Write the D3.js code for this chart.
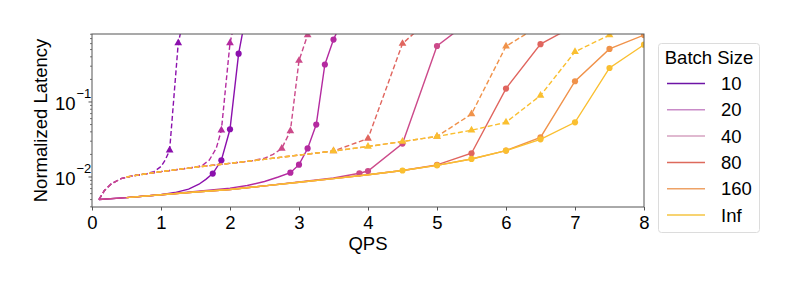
<!DOCTYPE html>
<html><head><meta charset="utf-8">
<script src="https://cdn.jsdelivr.net/npm/d3@7"></script>
<style>body{margin:0;background:#fff;} text{font-family:"Liberation Sans",Arial,Helvetica,sans-serif;fill:#000;}</style>
</head><body><svg id="c" width="789" height="282"></svg>
<script>
// ---------- data ----------
const batchSizes = ["10", "20", "40", "80", "160", "Inf"];
const lineColors = ["#8b10ad", "#b42aa0", "#cc4a8a", "#e0655e", "#f0924a", "#fabf30"];
const legendColors = ["#6e14a6", "#c98bc8", "#d6a2c0", "#dd6a5c", "#eea266", "#f4c542"];
const xTicks = [0, 1, 2, 3, 4, 5, 6, 7, 8];
const yMajorTicks = [0.01, 0.1];
const yTickExponents = ["\u22122", "\u22121"];

// solid lines (circle markers)
const solid10 = [[0.1,0.0050],[0.5,0.0053],[1.0,0.0058],[1.2,0.0062],[1.4,0.0069],[1.55,0.0080],[1.65,0.0093],[1.75,0.0111],[1.875,0.0167],[2.0,0.0433],[2.125,0.44],[2.25,1.8]];
const solid20 = [[0.1,0.0050],[0.5,0.0053],[1.0,0.0058],[1.5,0.0064],[2.0,0.0071],[2.25,0.0077],[2.5,0.0087],[2.7,0.0100],[2.875,0.0114],[3.0,0.0146],[3.125,0.024],[3.25,0.050],[3.375,0.316],[3.5,0.68],[3.625,1.2]];
const solid40 = [[0.1,0.0050],[0.5,0.0053],[1.0,0.0058],[1.5,0.0063],[2.0,0.0068],[2.5,0.0076],[3.0,0.0086],[3.5,0.0097],[3.875,0.0112],[4.0,0.0120],[4.5,0.0279],[5.0,0.558],[5.5,1.25]];
const solid80 = [[0.5,0.0053],[1.0,0.0058],[1.5,0.0063],[2.0,0.0068],[2.5,0.0076],[3.0,0.0085],[3.5,0.0095],[4.0,0.0107],[4.5,0.0122],[5.0,0.0145],[5.5,0.0207],[6.0,0.151],[6.5,0.59],[7.0,1.05]];
const solid160 = [[0.5,0.0053],[1.0,0.0058],[1.5,0.0063],[2.0,0.0068],[2.5,0.0076],[3.0,0.0085],[3.5,0.0095],[4.0,0.0107],[4.5,0.0122],[5.0,0.0143],[5.5,0.0174],[6.0,0.0225],[6.5,0.0338],[7.0,0.189],[7.5,0.51],[8.0,0.78]];
const solidInf = [[0.5,0.0053],[1.0,0.0058],[1.5,0.0063],[2.0,0.0068],[2.5,0.0076],[3.0,0.0085],[3.5,0.0095],[4.0,0.0107],[4.5,0.0122],[5.0,0.0143],[5.5,0.0174],[6.0,0.0225],[6.5,0.0318],[7.0,0.0536],[7.5,0.284],[8.0,0.58]];
const solidMarkers = [
  [1.75,1.875,2.0,2.125],
  [2.875,3.0,3.125,3.25,3.375,3.5],
  [3.875,4.0,4.5,5.0],
  [5.0,5.5,6.0,6.5],
  [6.0,6.5,7.0,7.5,8.0],
  [4.5,5.0,5.5,6.0,6.5,7.0,7.5,8.0]
];

// dashed lines (triangle markers)
const dashed10 = [[0.1,0.0050],[0.18,0.0066],[0.28,0.0081],[0.42,0.0095],[0.6,0.0104],[0.8,0.0111],[0.9,0.0118],[1.0,0.0138],[1.06,0.0168],[1.125,0.0227],[1.25,0.61],[1.375,2.0]];
const dashed20 = [[0.1,0.0050],[0.18,0.0066],[0.28,0.0081],[0.42,0.0095],[0.6,0.0104],[1.0,0.0118],[1.5,0.0135],[1.6,0.0143],[1.7,0.0168],[1.8,0.0240],[1.875,0.042],[2.0,0.61],[2.125,2.0]];
const dashed40 = [[0.1,0.0050],[0.18,0.0066],[0.28,0.0081],[0.42,0.0095],[0.6,0.0104],[1.0,0.0118],[1.5,0.0135],[2.0,0.0152],[2.3,0.0163],[2.5,0.0178],[2.625,0.0200],[2.75,0.024],[2.875,0.041],[3.0,0.356],[3.125,0.78],[3.25,3.0]];
const dashed80 = [[0.5,0.0100],[0.6,0.0104],[1.0,0.0118],[1.5,0.0135],[2.0,0.0152],[2.5,0.0172],[3.0,0.0196],[3.5,0.0222],[4.0,0.0325],[4.5,0.60],[5.0,1.55]];
const dashed160 = [[0.5,0.0100],[0.6,0.0104],[1.0,0.0118],[1.5,0.0135],[2.0,0.0152],[2.5,0.0172],[3.0,0.0196],[3.5,0.0222],[4.0,0.0255],[4.5,0.0297],[5.0,0.0347],[5.5,0.069],[6.0,0.553],[6.5,1.06]];
const dashedInf = [[0.5,0.0100],[0.6,0.0104],[1.0,0.0118],[1.5,0.0135],[2.0,0.0152],[2.5,0.0172],[3.0,0.0196],[3.5,0.0222],[4.0,0.0255],[4.5,0.0297],[5.0,0.0347],[5.5,0.042],[6.0,0.0536],[6.5,0.122],[7.0,0.468],[7.5,0.78],[8.0,1.2]];
const dashedMarkers = [
  [1.125,1.25],
  [1.875,2.0],
  [2.75,2.875,3.0,3.125],
  [3.5,4.0,4.5],
  [5.0,5.5,6.0],
  [3.5,4.0,4.5,5.0,5.5,6.0,6.5,7.0,7.5]
];

const solidSeries = [solid10, solid20, solid40, solid80, solid160, solidInf];
const dashedSeries = [dashed10, dashed20, dashed40, dashed80, dashed160, dashedInf];

// ---------- layout ----------
const plot = {left: 92, right: 644, top: 34, bottom: 207};
const svg = d3.select("#c");

const x = d3.scaleLinear().domain([0, 8]).range([plot.left, plot.right]);
const y = d3.scaleLog().domain([0.00398, 0.806]).range([plot.bottom, plot.top]);

svg.append("defs").append("clipPath").attr("id", "clip")
  .append("rect").attr("x", plot.left).attr("y", plot.top)
  .attr("width", plot.right - plot.left).attr("height", plot.bottom - plot.top);

const g = svg.append("g").attr("clip-path", "url(#clip)");
const line = d3.line().x(d => x(d[0])).y(d => y(d[1]));
const tri = d3.symbol().type(d3.symbolTriangle).size(26);

function lookup(series, xv) {
  return series.find(p => Math.abs(p[0] - xv) < 1e-9);
}

for (let i = 0; i < batchSizes.length; i++) {
  const c = lineColors[i];
  g.append("path").datum(dashedSeries[i]).attr("d", line)
    .attr("fill", "none").attr("stroke", c).attr("stroke-width", 1.4)
    .attr("stroke-dasharray", "5,2.6");
  g.selectAll(null).data(dashedMarkers[i].map(v => lookup(dashedSeries[i], v)))
    .enter().append("path").attr("d", tri)
    .attr("transform", d => `translate(${x(d[0])},${y(d[1])})`)
    .attr("fill", c);
  g.append("path").datum(solidSeries[i]).attr("d", line)
    .attr("fill", "none").attr("stroke", c).attr("stroke-width", 1.4);
  g.selectAll(null).data(solidMarkers[i].map(v => lookup(solidSeries[i], v)))
    .enter().append("circle")
    .attr("cx", d => x(d[0])).attr("cy", d => y(d[1])).attr("r", 3.1)
    .attr("fill", c);
}

// frame
const axColor = "#555";
svg.append("rect").attr("x", plot.left).attr("y", plot.top)
  .attr("width", plot.right - plot.left).attr("height", plot.bottom - plot.top)
  .attr("fill", "none").attr("stroke", axColor).attr("stroke-width", 1);

// x axis
const xAxis = svg.append("g").attr("transform", `translate(0,${plot.bottom})`)
  .call(d3.axisBottom(x).tickValues(xTicks).tickFormat(d3.format("d")).tickSize(3.5).tickPadding(5));
xAxis.select(".domain").remove();
xAxis.selectAll("line").attr("stroke", axColor);
xAxis.selectAll("text").attr("font-size", 18.5).attr("font-family", null).style("fill", "#000");

// y axis ticks (major + minor)
const minor = [];
for (let e = -3; e <= -1; e++) for (let m = 2; m <= 9; m++) {
  const v = m * Math.pow(10, e);
  if (v >= 0.00398 && v <= 0.806) minor.push(v);
}
svg.selectAll(".ymin").data(minor).enter().append("line")
  .attr("x1", plot.left - 2).attr("x2", plot.left)
  .attr("y1", d => y(d)).attr("y2", d => y(d)).attr("stroke", axColor).attr("stroke-width", 0.8);
svg.selectAll(".ymaj").data(yMajorTicks).enter().append("line")
  .attr("x1", plot.left - 3.5).attr("x2", plot.left)
  .attr("y1", d => y(d)).attr("y2", d => y(d)).attr("stroke", axColor).attr("stroke-width", 1);
const yl = svg.selectAll(".ylab").data(yMajorTicks).enter().append("text")
  .attr("x", 75.5).attr("y", d => y(d) + 8).attr("text-anchor", "end").attr("font-size", 18.5)
  .text("10");
yl.each(function(d, i) {
  d3.select(this.parentNode).append("text")
    .attr("x", 76.5).attr("y", y(d) - 3.5).attr("font-size", 13)
    .text(yTickExponents[i]);
});

// axis titles
svg.append("text").attr("x", (plot.left + plot.right) / 2).attr("y", 250)
  .attr("text-anchor", "middle").attr("font-size", 18.5).text("QPS");
svg.append("text").attr("transform", `translate(47,${(plot.top + plot.bottom) / 2}) rotate(-90)`)
  .attr("text-anchor", "middle").attr("font-size", 18.5).text("Normalized Latency");

// legend
const lg = svg.append("g");
lg.append("rect").attr("x", 658.5).attr("y", 43.5).attr("width", 101).attr("height", 189)
  .attr("rx", 3).attr("fill", "#fff").attr("stroke", "#dcdcdc").attr("stroke-width", 1);
lg.append("text").attr("x", 709).attr("y", 64).attr("text-anchor", "middle")
  .attr("font-size", 18.5).text("Batch Size");
batchSizes.forEach((b, i) => {
  const cy = 83.5 + i * 26.3;
  lg.append("line").attr("x1", 667).attr("x2", 705).attr("y1", cy).attr("y2", cy)
    .attr("stroke", legendColors[i]).attr("stroke-width", 1.5);
  lg.append("text").attr("x", 721).attr("y", cy + 6.5).attr("font-size", 18.5).text(b);
});
</script></body></html>
